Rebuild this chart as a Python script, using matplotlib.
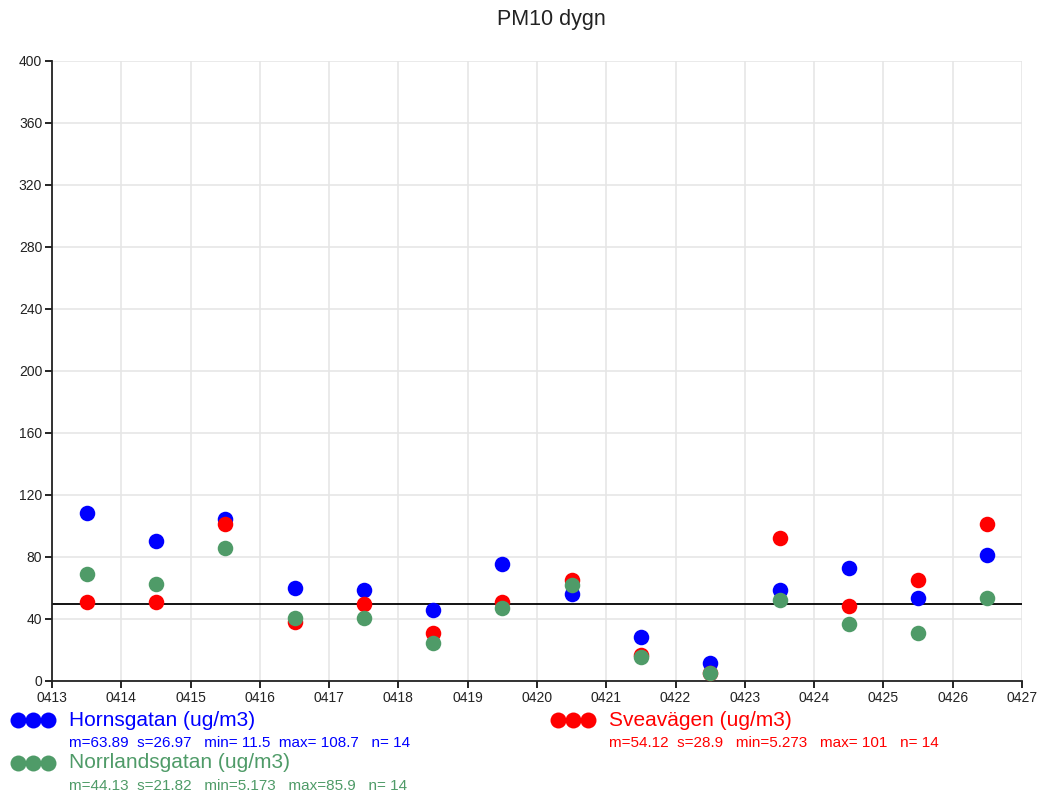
import matplotlib
matplotlib.use("Agg")
import matplotlib.pyplot as plt
from matplotlib.lines import Line2D

plt.rcParams['font.family'] = ['Liberation Sans', 'DejaVu Sans']

dates = ['0413', '0414', '0415', '0416', '0417', '0418', '0419', '0420',
         '0421', '0422', '0423', '0424', '0425', '0426', '0427']
horns = [108.7, 90.3, 104.5, 59.8, 58.6, 45.8, 75.3, 56.0, 28.4, 11.5, 58.7, 72.6, 53.5, 81.3]
svea = [51.0, 51.0, 101.0, 38.0, 49.5, 31.0, 51.0, 65.0, 16.8, 5.273, 92.5, 48.4, 65.0, 101.0]
norr = [68.8, 62.4, 85.9, 40.8, 40.8, 24.5, 47.0, 62.2, 15.5, 5.173, 52.0, 36.8, 31.0, 53.6]
limit = 50

series = [
    ('Hornsgatan (ug/m3)', horns, '#0000ff', 'm=63.89  s=26.97   min= 11.5  max= 108.7   n= 14'),
    ('Sveavägen (ug/m3)', svea, '#ff0000', 'm=54.12  s=28.9   min=5.273   max= 101   n= 14'),
    ('Norrlandsgatan (ug/m3)', norr, '#4f9b68', 'm=44.13  s=21.82   min=5.173   max=85.9   n= 14'),
]

fig = plt.figure(figsize=(10.4, 7.92), dpi=100)
ax = fig.add_axes([52/1040, 1 - 681/792, 970/1040, 620/792])

x = [i + 0.5 for i in range(len(horns))]
for name, vals, col, stats in series:
    ax.scatter(x, vals, s=125, color=col, zorder=3, linewidths=0)

ax.axhline(limit, color='black', lw=1.3, zorder=2)

ax.set_xlim(0, len(dates) - 1)
ax.set_ylim(0, 400)
ax.set_xticks(range(len(dates)))
ax.set_xticklabels(dates)
ax.set_yticks(range(0, 401, 40))
ax.tick_params(axis='both', labelsize=10, length=5, width=1.2, pad=2, labelcolor='#222222')
ax.grid(True, color='#e6e6e6', lw=1.2, zorder=0)
ax.set_axisbelow(True)
for sp in ['top', 'right']:
    ax.spines[sp].set_visible(False)
for sp in ['left', 'bottom']:
    ax.spines[sp].set_linewidth(1.3)
    ax.spines[sp].set_color('#222222')

fig.text(551/1040, 1 - 20/792, 'PM10 dygn', ha='center', va='center', fontsize=15.5, color='#222222')

# legend drawn by hand below the axes
def legend_entry(x0, y0, name, col, stats):
    for dx in (0, 15, 30):
        fig.add_artist(Line2D([(x0 + dx)/1040], [1 - y0/792], marker='o',
                              markersize=11.5, color=col, markeredgewidth=0,
                              transform=fig.transFigure))
    fig.text((x0 + 51)/1040, 1 - y0/792, name, color=col, fontsize=15, va='center')
    fig.text((x0 + 51)/1040, 1 - (y0 + 23)/792, stats, color=col, fontsize=11, va='center')

legend_entry(18, 720, series[0][0], series[0][2], series[0][3])
legend_entry(558, 720, series[1][0], series[1][2], series[1][3])
legend_entry(18, 763, series[2][0], series[2][2], series[2][3])

fig.savefig('out.png', dpi=100)
